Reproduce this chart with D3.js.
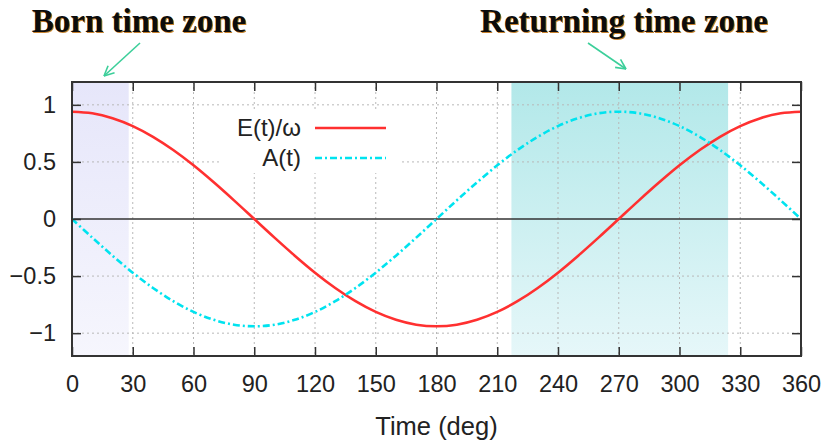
<!DOCTYPE html>
<html>
<head>
<meta charset="utf-8">
<script src="https://cdn.jsdelivr.net/npm/d3@7"></script>
<style>
  html, body { margin: 0; padding: 0; background: #fff; }
  svg { display: block; }
</style>
</head>
<body>
<svg id="chart" width="828" height="440"></svg>
<script>
// Phase angle (deg) sampled every 10 degrees
const timeDeg = [0, 10, 20, 30, 40, 50, 60, 70, 80, 90, 100, 110, 120, 130, 140, 150, 160, 170, 180,
                 190, 200, 210, 220, 230, 240, 250, 260, 270, 280, 290, 300, 310, 320, 330, 340, 350, 360];
// Electric field divided by angular frequency
const fieldValues = [0.94, 0.926, 0.883, 0.814, 0.72, 0.604, 0.47, 0.321, 0.163, 0,
                     -0.163, -0.321, -0.47, -0.604, -0.72, -0.814, -0.883, -0.926, -0.94,
                     -0.926, -0.883, -0.814, -0.72, -0.604, -0.47, -0.321, -0.163, 0,
                     0.163, 0.321, 0.47, 0.604, 0.72, 0.814, 0.883, 0.926, 0.94];
// Vector potential
const potentialValues = [0, -0.163, -0.321, -0.47, -0.604, -0.72, -0.814, -0.883, -0.926, -0.94,
                         -0.926, -0.883, -0.814, -0.72, -0.604, -0.47, -0.321, -0.163, 0,
                         0.163, 0.321, 0.47, 0.604, 0.72, 0.814, 0.883, 0.926, 0.94,
                         0.926, 0.883, 0.814, 0.72, 0.604, 0.47, 0.321, 0.163, 0];
const seriesNames = ["E(t)/ω", "A(t)"];
const xTicks = [0, 30, 60, 90, 120, 150, 180, 210, 240, 270, 300, 330, 360];
const yTicks = [-1, -0.5, 0, 0.5, 1];
const bornZone = [0, 28];
const returnZone = [217, 324];
const zoneTitles = ["Born time zone", "Returning time zone"];
const xTitle = "Time (deg)";

const svg = d3.select("#chart");
const plotL = 72, plotR = 801, plotT = 82, plotB = 356;
const x = d3.scaleLinear().domain([0, 360]).range([plotL, plotR]);
const y = d3.scaleLinear().domain([-1.2, 1.2]).range([plotB, plotT]);
const sansFont = "Liberation Sans, Arial, sans-serif";

const defs = svg.append("defs");
function vGrad(id, c0, c1) {
  const g = defs.append("linearGradient").attr("id", id)
    .attr("x1", 0).attr("y1", 0).attr("x2", 0).attr("y2", 1);
  g.append("stop").attr("offset", "0%").attr("stop-color", c0);
  g.append("stop").attr("offset", "100%").attr("stop-color", c1);
}
vGrad("bornGrad", "#e6e6fa", "#f6f6fd");
vGrad("returnGrad", "#b2e8e9", "#e6f7f9");
defs.append("filter").attr("id", "soft")
  .append("feGaussianBlur").attr("stdDeviation", 0.6);

// shaded time zones
svg.append("rect").attr("x", x(bornZone[0])).attr("y", plotT)
  .attr("width", x(bornZone[1]) - x(bornZone[0])).attr("height", plotB - plotT)
  .attr("fill", "url(#bornGrad)");
svg.append("rect").attr("x", x(returnZone[0])).attr("y", plotT)
  .attr("width", x(returnZone[1]) - x(returnZone[0])).attr("height", plotB - plotT)
  .attr("fill", "url(#returnGrad)");

// dotted grid
const grid = svg.append("g").attr("stroke", "#b8b8b8").attr("stroke-width", 1)
  .attr("stroke-dasharray", "2,3");
xTicks.filter(t => t > 0 && t < 360).forEach(t => {
  grid.append("line").attr("x1", x(t)).attr("x2", x(t)).attr("y1", plotT).attr("y2", plotB);
});
yTicks.filter(t => t !== 0).forEach(t => {
  grid.append("line").attr("x1", plotL).attr("x2", plotR).attr("y1", y(t)).attr("y2", y(t));
});

// zero line
svg.append("line").attr("x1", plotL).attr("x2", plotR).attr("y1", y(0)).attr("y2", y(0))
  .attr("stroke", "#333").attr("stroke-width", 1.5);

// curves
const line = d3.line().x((d, i) => x(timeDeg[i])).y(d => y(d)).curve(d3.curveCardinal.tension(0));
svg.append("path").datum(fieldValues).attr("d", line)
  .attr("fill", "none").attr("stroke", "#ff3030").attr("stroke-width", 2.6);
svg.append("path").datum(potentialValues).attr("d", line)
  .attr("fill", "none").attr("stroke", "#00e3ef").attr("stroke-width", 2.6)
  .attr("stroke-dasharray", "7,3,2,3");

// legend box
const lg = svg.append("g");
lg.append("rect").attr("x", 222).attr("y", 111).attr("width", 178).attr("height", 62).attr("fill", "#fff");
const legendRows = [
  { name: seriesNames[0], color: "#ff3030", dash: null, yy: 128 },
  { name: seriesNames[1], color: "#00e3ef", dash: "7,3,2,3", yy: 158 }
];
legendRows.forEach(r => {
  lg.append("text").attr("x", 301).attr("y", r.yy).attr("dy", "0.35em")
    .attr("text-anchor", "end").attr("font-family", sansFont)
    .attr("font-size", 24).attr("fill", "#222").text(r.name);
  const l = lg.append("line").attr("x1", 315).attr("x2", 386).attr("y1", r.yy).attr("y2", r.yy)
    .attr("stroke", r.color).attr("stroke-width", 2.6);
  if (r.dash) l.attr("stroke-dasharray", r.dash);
});

// frame
svg.append("rect").attr("x", plotL).attr("y", plotT).attr("width", plotR - plotL).attr("height", plotB - plotT)
  .attr("fill", "none").attr("stroke", "#333").attr("stroke-width", 2);

// axes with inward ticks, mirrored on opposite sides
const tickFmt = d3.format("");
const axB = d3.axisBottom(x).tickValues(xTicks).tickSizeInner(-9).tickSizeOuter(0).tickPadding(19).tickFormat(tickFmt);
const axT = d3.axisTop(x).tickValues(xTicks).tickSizeInner(-9).tickSizeOuter(0).tickFormat("");
const axL = d3.axisLeft(y).tickValues(yTicks).tickSizeInner(-9).tickSizeOuter(0).tickPadding(16).tickFormat(tickFmt);
const axR = d3.axisRight(y).tickValues(yTicks).tickSizeInner(-9).tickSizeOuter(0).tickFormat("");

function styleAxis(g) {
  g.select(".domain").remove();
  g.selectAll(".tick line").attr("stroke", "#333").attr("stroke-width", 1.5);
  g.selectAll(".tick text").attr("font-family", sansFont)
    .attr("font-size", 23.5).attr("fill", "#222");
}
svg.append("g").attr("transform", `translate(0,${plotB})`).call(axB).call(styleAxis);
svg.append("g").attr("transform", `translate(0,${plotT})`).call(axT).call(styleAxis);
svg.append("g").attr("transform", `translate(${plotL},0)`).call(axL).call(styleAxis);
svg.append("g").attr("transform", `translate(${plotR},0)`).call(axR).call(styleAxis);

// axis title
svg.append("text").attr("x", (plotL + plotR) / 2).attr("y", 435).attr("text-anchor", "middle")
  .attr("font-family", sansFont).attr("font-size", 25.5)
  .attr("fill", "#222").text(xTitle);

// zone titles with warm drop shadow
function zoneTitle(txt, cx) {
  const g = svg.append("g").attr("font-family", "Liberation Serif, Times New Roman, serif")
    .attr("font-weight", "bold").attr("font-size", 33).attr("text-anchor", "middle");
  g.append("text").attr("x", cx + 1).attr("y", 33).attr("fill", "#c8822e")
    .attr("filter", "url(#soft)").text(txt);
  g.append("text").attr("x", cx).attr("y", 32).attr("fill", "#0c0c0c").text(txt);
}
zoneTitle(zoneTitles[0], 139);
zoneTitle(zoneTitles[1], 624);

// arrows pointing at the zones
function arrow(x1, y1, x2, y2) {
  const g = svg.append("g").attr("stroke", "#3ccf9a").attr("stroke-width", 1.6).attr("fill", "none");
  g.append("line").attr("x1", x1).attr("y1", y1).attr("x2", x2).attr("y2", y2);
  const a = Math.atan2(y2 - y1, x2 - x1), len = 11, spread = 0.45;
  [a + Math.PI - spread, a + Math.PI + spread].forEach(b => {
    g.append("line").attr("x1", x2).attr("y1", y2)
      .attr("x2", x2 + len * Math.cos(b)).attr("y2", y2 + len * Math.sin(b));
  });
}
arrow(140, 43, 104, 76);
arrow(588, 43, 626, 69);
</script>
</body>
</html>
